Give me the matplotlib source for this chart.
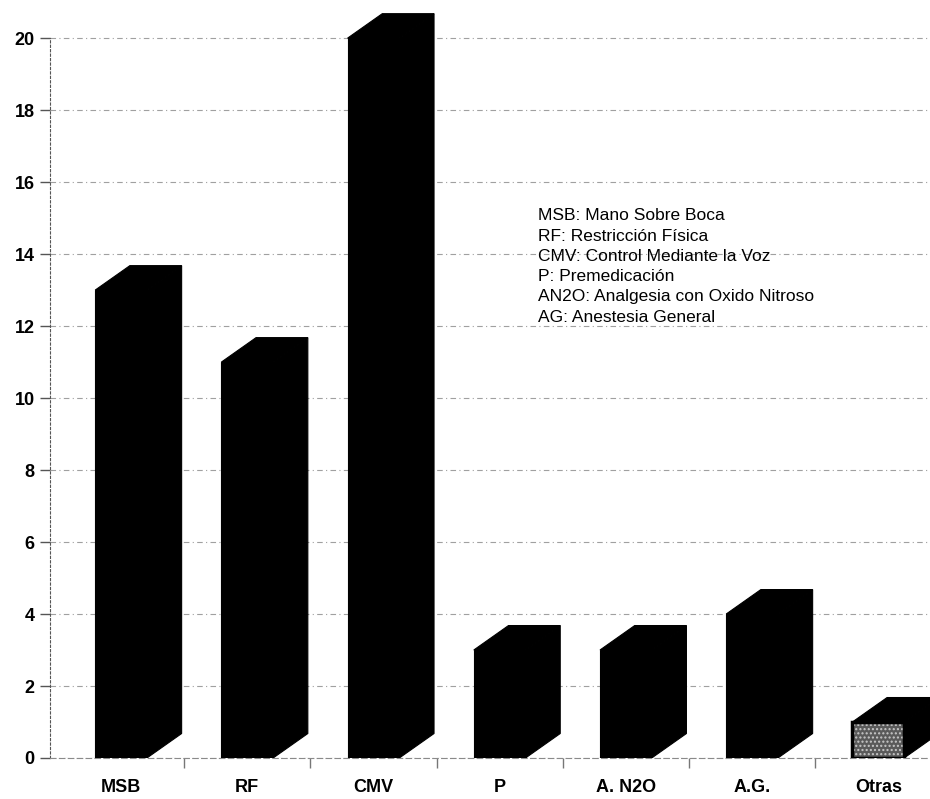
import matplotlib.pyplot as plt
from matplotlib.patches import Polygon
import numpy as np

plt.rcParams['font.family'] = ['Liberation Sans', 'DejaVu Sans']

categorias = ['MSB', 'RF', 'CMV', 'P', 'A. N2O', 'A.G.', 'Otras']
valores = [13, 11, 20, 3, 3, 4, 1]
yticks = [0, 2, 4, 6, 8, 10, 12, 14, 16, 18, 20]
leyenda = ['MSB: Mano Sobre Boca',
           'RF: Restricción Física',
           'CMV: Control Mediante la Voz',
           'P: Premedicación',
           'AN2O: Analgesia con Oxido Nitroso',
           'AG: Anestesia General']

fig = plt.figure(figsize=(9.3, 7.99), dpi=100)
ax = fig.add_axes([50 / 930, 41 / 799, 880 / 930, 758 / 799])

x = np.arange(len(categorias))
ancho = 0.41
# profundidad del efecto 3D (en unidades de datos)
dx, dy = 0.275, 0.68

barras = ax.bar(x, valores, width=ancho, color='black', edgecolor='black',
                linewidth=0.8, zorder=3)
for b, v in zip(barras, valores):
    x0 = b.get_x()
    x1 = x0 + b.get_width()
    tapa = Polygon([(x0, v), (x0 + dx, v + dy), (x1 + dx, v + dy), (x1, v)],
                   closed=True, facecolor='black', edgecolor='black',
                   linewidth=0.8, zorder=3)
    lado = Polygon([(x1, 0), (x1 + dx, dy), (x1 + dx, v + dy), (x1, v)],
                   closed=True, facecolor='black', edgecolor='black',
                   linewidth=0.8, zorder=3)
    ax.add_patch(tapa)
    ax.add_patch(lado)

# cara frontal de "Otras" con trama gris
barras[-1].set_facecolor('#5a5a5a')
ax.bar(x[-1], valores[-1], width=ancho, facecolor='none', hatch='....',
       edgecolor='#c8c8c8', linewidth=0, zorder=4)
ax.bar(x[-1], valores[-1], width=ancho, facecolor='none',
       edgecolor='black', linewidth=2.5, zorder=5)

ax.set_xlim(-0.563, 6.41)
ax.set_ylim(0, 21.06)

ax.set_axisbelow(True)
ax.yaxis.grid(True, linestyle=(0, (5, 3, 1, 3)), color='#a0a0a0', linewidth=0.8)

for s in ['top', 'right']:
    ax.spines[s].set_visible(False)
ax.spines['left'].set_bounds(0, 20)
ax.spines['left'].set_linestyle((0, (2, 2)))
ax.spines['left'].set_color('#555555')
ax.spines['bottom'].set_linestyle((0, (5, 3)))
ax.spines['bottom'].set_color('#8a8a8a')

ax.set_yticks(yticks)
ax.set_yticklabels([str(t) for t in yticks], fontsize=13, fontweight='bold')
ax.tick_params(axis='y', length=7, width=1, color='#555555', pad=4)

ax.set_xticks(x)
ax.set_xticklabels(categorias, fontsize=13, fontweight='bold')
ax.set_xticks(x[:-1] + 0.5, minor=True)
ax.tick_params(axis='x', which='major', length=0, pad=15)
ax.tick_params(axis='x', which='minor', length=7, width=1, color='#777777')

for i, linea in enumerate(leyenda):
    fig.text(538 / 930, 1 - (216 + 20.2 * i) / 799, linea,
             fontsize=12.5, va='center', ha='left')

fig.savefig('out.png', dpi=100)
